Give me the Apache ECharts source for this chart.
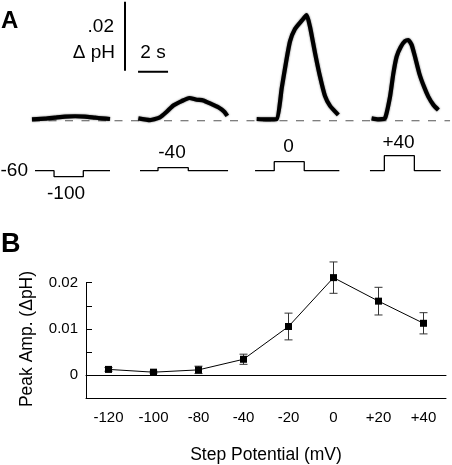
<!DOCTYPE html>
<html><head><meta charset="utf-8">
<script src="https://cdn.jsdelivr.net/npm/echarts@6/dist/echarts.min.js"></script>
<style>html,body{margin:0;padding:0;background:#fff}#c{width:452px;height:465px}</style>
</head><body><div id="c"></div>
<script>
// ---------- Panel B data ----------
const stepPotentials = ['-120', '-100', '-80', '-40', '-20', '0', '+20', '+40'];
const peakAmp = [0.0012, 0.0006, 0.0011, 0.0034, 0.0105, 0.0211, 0.0160, 0.0112];
const peakErr = [0.0004, 0.0002, 0.0008, 0.0011, 0.0029, 0.0034, 0.0030, 0.0023];
const yTickLabelsB = [0, 0.01, 0.02];

// ---------- Panel A traces: [time (s), ΔpH] ----------
const traceM100 = [[2.0,0.0004],[2.87,0.0006],[3.53,0.0009],[4.2,0.0012],[4.87,0.0013],[5.53,0.0012],[6.2,0.0009],[6.67,0.0007],[7.2,0.0005]];
const traceM40 = [[9.09,0.0007],[9.87,0.0002],[10.53,0.0010],[10.98,0.0026],[11.42,0.0044],[11.98,0.0057],[12.49,0.0066],[12.98,0.0061],[13.42,0.0059],[13.98,0.0048],[14.42,0.0039],[14.8,0.0027],[15.02,0.0014]];
const trace0 = [[16.98,0.0005],[17.6,0.0004],[18.31,0.0005],[18.65,0.0095],[18.93,0.0168],[19.2,0.0230],[19.53,0.0266],[19.98,0.0290],[20.31,0.0306],[20.53,0.0273],[20.87,0.0196],[21.2,0.0128],[21.53,0.0072],[21.87,0.0043],[22.42,0.0017]];
const traceP40 = [[24.64,0.0007],[25.09,0.0004],[25.53,0.0007],[25.87,0.0070],[26.09,0.0137],[26.31,0.0186],[26.58,0.0214],[26.87,0.0231],[27.09,0.0234],[27.31,0.0220],[27.53,0.0186],[27.82,0.0137],[28.13,0.0099],[28.42,0.0070],[28.76,0.0046],[29.09,0.0031]];
const baselineSpan = [2.0, 29.87];

// voltage protocol: holding -60 mV, step level and [start, stepOn, stepOff, end] times (s)
const holdingPotential = -60;
const stepLevels = [-100, -40, 0, 40];
const stepLabels = ['-100', '-40', '0', '+40'];
const stepTimes = [[2.2,3.47,5.42,7.2],[9.2,10.4,12.42,15.07],[16.87,18.15,20.15,22.49],[24.53,25.49,27.49,29.25]];

// scale bars
const scaleBarPH = 0.02, scaleBarPHBase = 0.0145, scaleBarPHTime = 8.2;
const scaleBarSec = 2, scaleBarSecStart = 9.07, scaleBarSecLevel = 0.0142;

const FONT = '"Liberation Sans", Arial, Helvetica, sans-serif';

const traceSeries = [traceM100, traceM40, trace0, traceP40].map(d => ({
  type: 'line', xAxisIndex: 0, yAxisIndex: 0, data: d, showSymbol: false, smooth: 0.18,
  lineStyle: { color: '#000', width: 4.2, join: 'round', cap: 'butt', shadowColor: 'rgba(0,0,0,0.6)', shadowBlur: 2 }, z: 5, silent: true
}));

const stepSeries = stepTimes.map((t, i) => ({
  type: 'line', xAxisIndex: 1, yAxisIndex: 1, showSymbol: false, silent: true,
  data: [[t[0], holdingPotential], [t[1], holdingPotential], [t[1], stepLevels[i]], [t[2], stepLevels[i]], [t[2], holdingPotential], [t[3], holdingPotential]],
  lineStyle: { color: '#000', width: 1.3 }
}));

const chart = echarts.init(document.getElementById('c'), null, { renderer: 'canvas' });
chart.setOption({
  animation: false,
  backgroundColor: '#fff',
  textStyle: { fontFamily: FONT, color: '#000' },
  grid: [
    { left: 2, top: 0, width: 450, height: 131.1 },
    { left: 2, top: 152.7, width: 450, height: 27 },
    { left: 86, top: 282.7, width: 360, height: 140.8 }
  ],
  xAxis: [
    { gridIndex: 0, type: 'value', min: 0, max: 30, show: false },
    { gridIndex: 1, type: 'value', min: 0, max: 30, show: false },
    { gridIndex: 2, type: 'category', data: stepPotentials, boundaryGap: true, position: 'bottom',
      axisLine: { onZero: true, lineStyle: { color: '#000', width: 1 } },
      axisTick: { alignWithLabel: true, length: 3, lineStyle: { color: '#000' } },
      axisLabel: { fontSize: 15, margin: 12, color: '#000', fontFamily: FONT, interval: 0 },
      name: 'Step Potential (mV)', nameLocation: 'middle', nameGap: 48,
      nameTextStyle: { fontSize: 17.5, color: '#000', fontFamily: FONT } },
    { gridIndex: 2, type: 'category', data: stepPotentials, boundaryGap: true, position: 'bottom',
      axisLine: { onZero: true, lineStyle: { color: '#000', width: 1 } },
      axisTick: { alignWithLabel: true, inside: true, length: 3, lineStyle: { color: '#000' } },
      axisLabel: { show: false } }
  ],
  yAxis: [
    { gridIndex: 0, type: 'value', min: -0.003, max: 0.035, show: false },
    { gridIndex: 1, type: 'value', min: -120, max: 60, show: false },
    { gridIndex: 2, type: 'value', min: -0.005, max: 0.02, interval: 0.005,
      axisLine: { show: true, onZero: false, lineStyle: { color: '#000', width: 1 } },
      axisTick: { show: true, inside: true, length: 6, lineStyle: { color: '#000' } },
      splitLine: { show: false },
      axisLabel: { fontSize: 15, margin: 8, color: '#000', fontFamily: FONT,
        formatter: v => yTickLabelsB.some(t => Math.abs(t - v) < 1e-9) ? (Math.abs(v) < 1e-9 ? '0' : v.toFixed(2)) : '' } }
  ],
  series: [
    { type: 'line', xAxisIndex: 0, yAxisIndex: 0, data: [[baselineSpan[0], 0], [baselineSpan[1], 0]], showSymbol: false, silent: true,
      lineStyle: { color: '#555', width: 1.2, type: [8, 8.5] }, z: 1 },
    ...traceSeries,
    { type: 'line', xAxisIndex: 0, yAxisIndex: 0, showSymbol: false, silent: true,
      data: [[scaleBarPHTime, scaleBarPHBase], [scaleBarPHTime, scaleBarPHBase + scaleBarPH]],
      lineStyle: { color: '#000', width: 2 } },
    { type: 'line', xAxisIndex: 0, yAxisIndex: 0, showSymbol: false, silent: true,
      data: [[scaleBarSecStart, scaleBarSecLevel], [scaleBarSecStart + scaleBarSec, scaleBarSecLevel]],
      lineStyle: { color: '#000', width: 2 } },
    ...stepSeries,
    { type: 'custom', xAxisIndex: 2, yAxisIndex: 2, clip: false, silent: true,
      data: stepPotentials.map((c, i) => [i, peakAmp[i] - peakErr[i], peakAmp[i] + peakErr[i]]),
      encode: { x: 0, y: [1, 2] },
      renderItem: (params, api) => {
        const x = api.value(0);
        const lo = api.coord([x, api.value(1)]);
        const hi = api.coord([x, api.value(2)]);
        const hw = 4;
        const st = { stroke: '#333', lineWidth: 1 };
        return { type: 'group', children: [
          { type: 'line', shape: { x1: lo[0], y1: lo[1], x2: hi[0], y2: hi[1] }, style: st },
          { type: 'line', shape: { x1: lo[0] - hw, y1: lo[1], x2: lo[0] + hw, y2: lo[1] }, style: st },
          { type: 'line', shape: { x1: hi[0] - hw, y1: hi[1], x2: hi[0] + hw, y2: hi[1] }, style: st }
        ] };
      }, z: 3 },
    { type: 'line', xAxisIndex: 2, yAxisIndex: 2, data: peakAmp, clip: false, silent: true,
      symbol: 'rect', symbolSize: 7, showSymbol: true,
      itemStyle: { color: '#000' }, lineStyle: { color: '#000', width: 1 }, z: 4 }
  ],
  graphic: [
    { type: 'text', x: 1, y: 21.5, style: { text: 'A', font: 'bold 24px ' + FONT, fill: '#000', align: 'left', verticalAlign: 'middle' } },
    { type: 'text', x: 1, y: 245, style: { text: 'B', font: 'bold 27px ' + FONT, fill: '#000', align: 'left', verticalAlign: 'middle' } },
    { type: 'text', x: 114, y: 27, style: { text: '.02', font: '19px ' + FONT, fill: '#000', align: 'right', verticalAlign: 'middle' } },
    { type: 'text', x: 115, y: 53, style: { text: 'Δ pH', font: '19px ' + FONT, fill: '#000', align: 'right', verticalAlign: 'middle' } },
    { type: 'text', x: 153, y: 53, style: { text: '2 s', font: '19px ' + FONT, fill: '#000', align: 'center', verticalAlign: 'middle' } },
    { type: 'text', x: 28, y: 170.5, style: { text: String(holdingPotential), font: '19px ' + FONT, fill: '#000', align: 'right', verticalAlign: 'middle' } },
    { type: 'text', x: 66, y: 193.5, style: { text: stepLabels[0], font: '19px ' + FONT, fill: '#000', align: 'center', verticalAlign: 'middle' } },
    { type: 'text', x: 172, y: 153, style: { text: stepLabels[1], font: '19px ' + FONT, fill: '#000', align: 'center', verticalAlign: 'middle' } },
    { type: 'text', x: 288.5, y: 147, style: { text: stepLabels[2], font: '19px ' + FONT, fill: '#000', align: 'center', verticalAlign: 'middle' } },
    { type: 'text', x: 398.5, y: 143, style: { text: stepLabels[3], font: '19px ' + FONT, fill: '#000', align: 'center', verticalAlign: 'middle' } },
    { type: 'text', x: 27.5, y: 339, rotation: Math.PI / 2, style: { text: 'Peak Amp. (ΔpH)', font: '17.5px ' + FONT, fill: '#000', align: 'center', verticalAlign: 'middle' } }
  ]
});
</script></body></html>
